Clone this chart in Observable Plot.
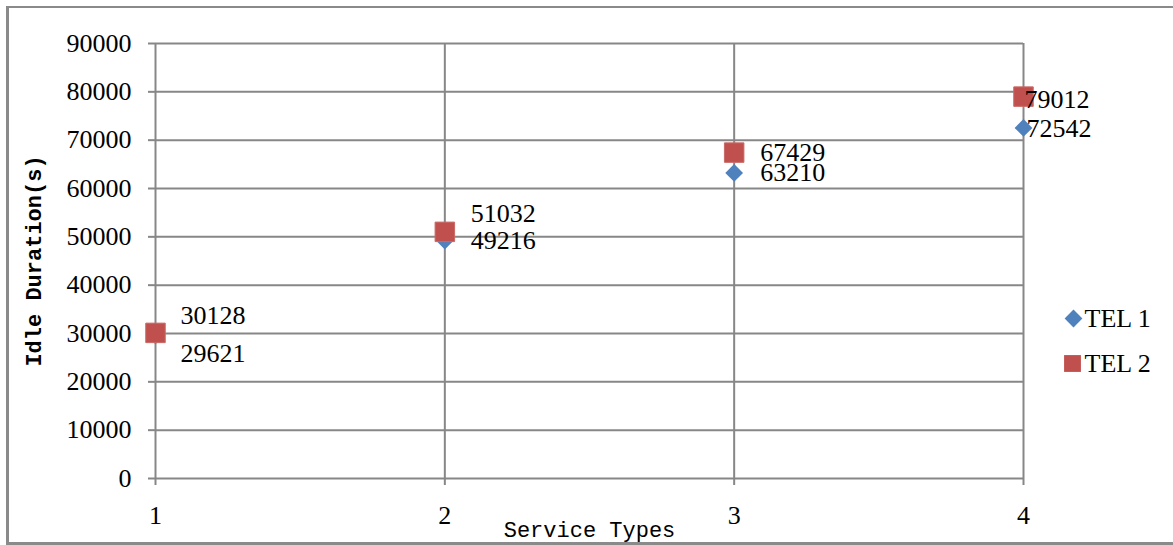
<!DOCTYPE html>
<html>
<head>
<meta charset="utf-8">
<script src="https://cdn.jsdelivr.net/npm/d3@7"></script>
<script src="https://cdn.jsdelivr.net/npm/@observablehq/plot@0.6"></script>
<style>
  html, body { margin: 0; padding: 0; background: #fff; }
  #wrap { position: relative; width: 1173px; height: 545px; overflow: hidden; }
  #wrap svg { position: absolute; left: 0; top: 0; }
  #border { position: absolute; left: 6px; top: 6px; width: 1180px; height: 534px;
            border-left: 3px solid #8a8a8a; border-top: 2px solid #8a8a8a; border-bottom: 3px solid #8a8a8a;
            pointer-events: none; }
</style>
</head>
<body>
<div id="wrap"><div id="border"></div></div>
<script>
// ---- data ----
const serviceTypes = [1, 2, 3, 4];
const tel1 = [29621, 49216, 63210, 72542];
const tel2 = [30128, 51032, 67429, 79012];
const seriesNames = ["TEL 1", "TEL 2"];
const yTicks = [0, 10000, 20000, 30000, 40000, 50000, 60000, 70000, 80000, 90000];
const xTicks = [1, 2, 3, 4];

// ---- label placement (style) ----
const tel1LabelDx = [25, 26, 26, 3];
const tel1LabelDy = [18, 0, 0, 1];
const tel2LabelDx = [25, 26, 26, 1];
const tel2LabelDy = [-17, -18, 0, 3];

const blue = "#4F81BD";
const red = "#C0504D";
const grid = "#878787";
const numFont = "Liberation Serif, DejaVu Serif, serif";
const monoFont = "Liberation Mono, DejaVu Sans Mono, monospace";

const rows1 = serviceTypes.map((s, i) => ({x: s, y: tel1[i], dx: tel1LabelDx[i], dy: tel1LabelDy[i]}));
const rows2 = serviceTypes.map((s, i) => ({x: s, y: tel2[i], dx: tel2LabelDx[i], dy: tel2LabelDy[i]}));

const labelMarks = (rows) => rows.map(r => Plot.text([r], {
  x: "x", y: "y", text: d => String(d.y), dx: r.dx, dy: r.dy,
  textAnchor: "start", lineAnchor: "middle", fill: "#000",
  fontSize: 26, fontFamily: numFont
}));

const chart = Plot.plot({
  width: 1173,
  height: 545,
  marginLeft: 155,
  marginRight: 150,
  marginTop: 43,
  marginBottom: 67,
  style: {fontFamily: numFont, background: "transparent", overflow: "visible"},
  x: {domain: [1, 4], ticks: xTicks},
  y: {domain: [0, 90000], ticks: yTicks},
  marks: [
    Plot.gridY(yTicks, {stroke: grid, strokeOpacity: 1, strokeWidth: 2}),
    Plot.gridX(xTicks, {stroke: grid, strokeOpacity: 1, strokeWidth: 2}),
    Plot.axisY(yTicks, {tickSize: 7, tickPadding: 17, stroke: grid, strokeWidth: 2, fontSize: 26,
      fontFamily: numFont, fill: "#000", label: null, tickFormat: d => String(d)}),
    Plot.axisX(xTicks, {tickSize: 7, tickPadding: 20, stroke: grid, strokeWidth: 2, fontSize: 26,
      fontFamily: numFont, fill: "#000", label: null, tickFormat: d => String(d)}),
    // axis titles
    Plot.text(["Idle Duration(s)"], {frameAnchor: "left", dx: -122, rotate: -90, textAnchor: "middle",
      fontSize: 22, fontWeight: "bold", fontFamily: monoFont, fill: "#000", text: d => d}),
    Plot.text(["Service Types"], {frameAnchor: "bottom", dy: 58,
      fontSize: 22, fontFamily: monoFont, fill: "#000", text: d => d}),
    // series
    Plot.dot(rows1, {x: "x", y: "y", symbol: "diamond2", r: 8, fill: blue, stroke: "none"}),
    Plot.dot(rows2, {x: "x", y: "y", symbol: "square", r: 11, fill: red, stroke: "#c96a67", strokeWidth: 1}),
    ...labelMarks(rows1),
    ...labelMarks(rows2),
    // legend
    Plot.dot([seriesNames[0]], {frameAnchor: "right", dx: 50, dy: 57.5, symbol: "diamond2", r: 8, fill: blue}),
    Plot.dot([seriesNames[1]], {frameAnchor: "right", dx: 49, dy: 102.5, symbol: "square", r: 9.5, fill: red}),
    Plot.text([seriesNames[0]], {frameAnchor: "right", dx: 61, dy: 57.5, text: d => d, textAnchor: "start",
      fontSize: 26, fontFamily: numFont, fill: "#000"}),
    Plot.text([seriesNames[1]], {frameAnchor: "right", dx: 61, dy: 102.5, text: d => d, textAnchor: "start",
      fontSize: 26, fontFamily: numFont, fill: "#000"})
  ]
});
document.getElementById("wrap").insertBefore(chart, document.getElementById("border"));
</script>
</body>
</html>
